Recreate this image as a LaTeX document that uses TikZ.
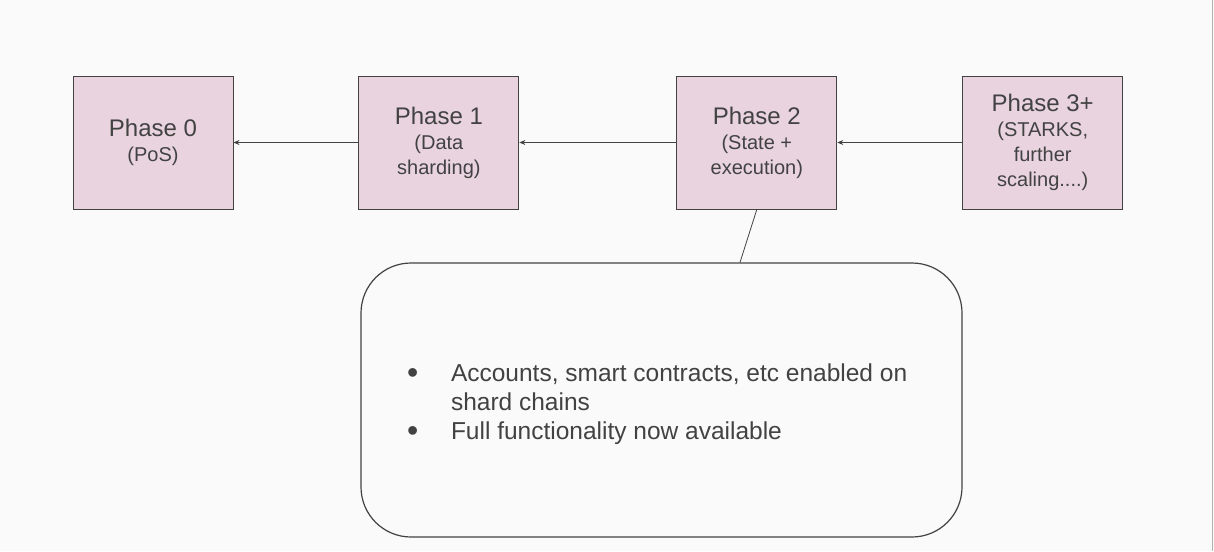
\documentclass[tikz,border=0pt]{standalone}
\usepackage{fontspec}
\usepackage{array}
\setmainfont{Liberation Sans}
\usetikzlibrary{positioning}
\usetikzlibrary{arrows.meta}
\definecolor{phasepink}{HTML}{E8D3DE}
\definecolor{inkgray}{HTML}{424242}
\definecolor{pagegray}{HTML}{FAFAFA}
\tikzset{
        % Phase boxes
        phase/.style={rectangle, draw=inkgray, fill=phasepink, line width=0.9pt, text=inkgray, align=center, inner sep=2pt, minimum width=160pt, minimum height=133pt, font=\fontsize{20}{25}\selectfont},
        % Arrows between phases
        phase_arrow/.style={-{Stealth[length=6pt,width=5pt]}, draw=inkgray, line width=0.8pt},
        % Rounded details box
        details_box/.style={rectangle, rounded corners=50pt, draw=inkgray, line width=1.2pt, text=inkgray, minimum width=601pt, minimum height=274pt, font=\fontsize{24.5}{29}\selectfont}
}
\newcommand{\phasetitle}[1]{{\fontsize{24}{26}\selectfont #1}}
\newcommand{\listdot}{\hspace*{3pt}\raisebox{-2pt}{\fontsize{32}{29}\selectfont\textbullet}}

\begin{document}
\begin{tikzpicture}[x=1pt, y=-1pt]
            \fill[pagegray] (0,0) rectangle (1214,551);
            \useasboundingbox (0,0) rectangle (1214,551);
            \draw[gray!60, line width=1.5pt] (1212.5,0) -- (1212.5,551);

            \node[phase] (p0) at (153,142.5) {\phasetitle{Phase 0}\\(PoS)};
            \node[phase, right=125pt of p0] (p1) {\phasetitle{Phase 1}\\(Data\\sharding)};
            \node[phase, right=157pt of p1] (p2) {\phasetitle{Phase 2}\\(State +\\execution)};
            \node[phase, right=125pt of p2] (p3) {\phasetitle{Phase 3+}\\(STARKS,\\further\\scaling....)};

            \node[details_box] (details) at (661.5,400) {%
                \raisebox{-5pt}[\height][\depth]{\begin{tabular}{@{}p{47pt}@{}>{\raggedright\arraybackslash}p{468pt}@{}}
                    \listdot & Accounts, smart contracts, etc enabled on shard chains\\
                    \listdot & Full functionality now available
                \end{tabular}}};
            \coordinate (tap) at ([xshift=78.5pt]details.north);

            \draw[phase_arrow] (p1) -- (p0);
            \draw[phase_arrow] (p2) -- (p1);
            \draw[phase_arrow] (p3) -- (p2);
            \draw[draw=inkgray, line width=0.8pt] (p2.south) -- (tap);
\end{tikzpicture}
\end{document}
